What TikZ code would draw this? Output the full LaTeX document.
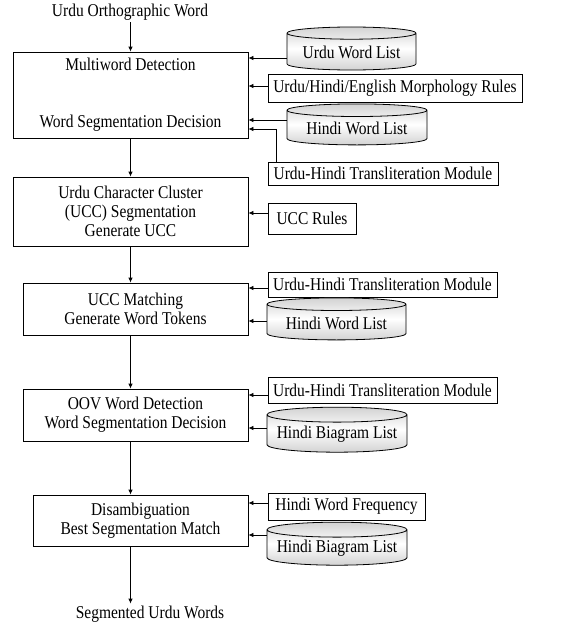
\documentclass[tikz,border=0pt]{standalone}
\usepackage{fontspec}
\setmainfont{Liberation Serif}[FakeStretch=0.86]
\usetikzlibrary{positioning,arrows.meta,shapes.geometric}
\newcommand{\diagfont}{\fontsize{18}{19}\selectfont}
\tikzset{
  stage/.style={draw, line width=0.8pt, align=center, font=\diagfont, inner sep=2pt},
  source/.style={draw, line width=0.8pt, align=center, font=\diagfont, inner sep=2pt},
  dbase/.style={cylinder, shape border rotate=90, aspect=0.12, draw, line width=0.8pt, align=center, font=\diagfont,
    shading=axis, shading angle=90, top color=gray!35, bottom color=gray!35, middle color=white, inner sep=2pt},
  term/.style={font=\diagfont, inner sep=2pt},
  arrow/.style={-{Latex[length=5pt,width=4.5pt]}, line width=0.8pt}
}
\begin{document}
\begin{tikzpicture}[x=1pt, y=1pt]
  \useasboundingbox[fill=white] (0,0) rectangle (574,-627);
  % main stages
  \node[term] (inp) at (130,-12) {Urdu Orthographic Word};
  \node[stage, minimum width=235pt, minimum height=86pt] (mwd) at (130.5,-95) {Multiword Detection\\[38pt]Word Segmentation Decision};
  \node[stage, minimum width=235pt, minimum height=69pt] (ucc) at (130.5,-211.5) {Urdu Character Cluster\\(UCC) Segmentation\\Generate UCC};
  \node[stage, minimum width=225pt, minimum height=52pt] (match) at (135.5,-309) {UCC Matching\\Generate Word Tokens};
  \node[stage, minimum width=225pt, minimum height=52pt] (oov) at (135.5,-415) {OOV Word Detection\\Word Segmentation Decision};
  \node[stage, minimum width=215pt, minimum height=51pt] (dis) at (140.5,-520.5) {Disambiguation\\Best Segmentation Match};
  \node[term] (out) at (150,-614) {Segmented Urdu Words};
  % resources
  \node[dbase, minimum width=129pt, minimum height=43pt] (uwl) at (351.5,-52.5) {Urdu Word List};
  \node[source, minimum width=254pt, minimum height=28pt] (morph) at (395,-88) {Urdu/Hindi/English Morphology Rules};
  \node[dbase, minimum width=140pt, minimum height=41pt] (hwlA) at (357,-128.5) {Hindi Word List};
  \node[source, minimum width=230pt, minimum height=23pt] (transA) at (383,-173.5) {Urdu-Hindi Transliteration Module};
  \node[source, minimum width=88pt, minimum height=31pt] (rules) at (312,-218.5) {UCC Rules};
  \node[source, minimum width=229pt, minimum height=25pt] (transB) at (382.5,-284.5) {Urdu-Hindi Transliteration Module};
  \node[dbase, minimum width=139pt, minimum height=42pt] (hwlB) at (336.5,-323) {Hindi Word List};
  \node[source, minimum width=229pt, minimum height=26pt] (transC) at (382.5,-390) {Urdu-Hindi Transliteration Module};
  \node[dbase, minimum width=140pt, minimum height=45pt] (hblA) at (337,-434.5) {Hindi Biagram List};
  \node[source, minimum width=157pt, minimum height=27pt] (freq) at (346.5,-506.5) {Hindi Word Frequency};
  \node[dbase, minimum width=140pt, minimum height=43pt] (hblB) at (337,-548.5) {Hindi Biagram List};
  % connectors
  \foreach \a/\b in {inp/mwd,mwd/ucc,ucc/match,match/oov,oov/dis,dis/out}{\draw[arrow] (\a.south -| mwd.south) -- (\b.north -| mwd.south);}
  \foreach \s/\t/\dy in {uwl/mwd/-5.5,morph/mwd/2,hwlA/mwd/8.5,rules/ucc/5.5,transB/match/-3.5,hwlB/match/2,transC/oov/-5,hblA/oov/6.5,freq/dis/3.5,hblB/dis/13.5}{\draw[arrow] ([yshift=\dy pt]\s.west) -- ([yshift=\dy pt]\s.west -| \t.east);}
  \draw[arrow] ([xshift=9pt]transA.north west) |- ([yshift=-34pt]mwd.east);
\end{tikzpicture}
\end{document}
